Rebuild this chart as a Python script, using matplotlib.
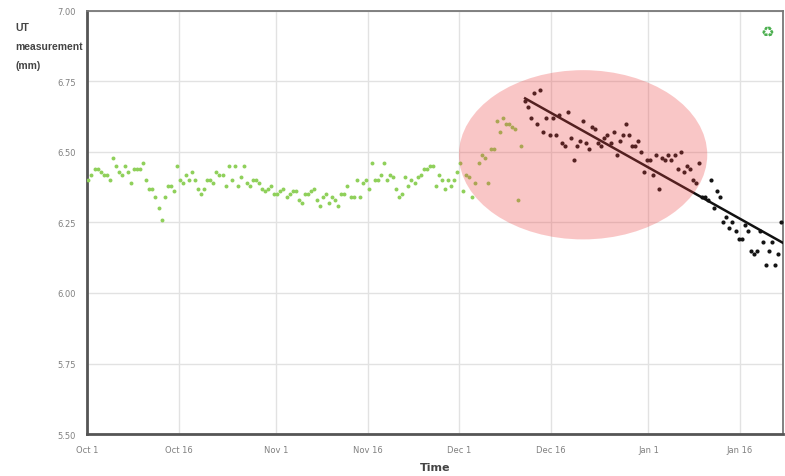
import numpy as np
import pandas as pd
import matplotlib
matplotlib.use("Agg")
import matplotlib.pyplot as plt
import matplotlib.dates as mdates
from matplotlib.patches import Ellipse

# UT wall-thickness readings, two per day
normal_start, normal_end = "2018-10-01 05:00", "2018-12-11 03:30"
normal_vals = [
    6.40, 6.42, 6.44, 6.44, 6.43, 6.42, 6.42, 6.40, 6.48, 6.45,
    6.43, 6.42, 6.45, 6.43, 6.39, 6.44, 6.44, 6.44, 6.46, 6.40,
    6.37, 6.37, 6.34, 6.30, 6.26, 6.34, 6.38, 6.38, 6.36, 6.45,
    6.40, 6.39, 6.42, 6.40, 6.43, 6.40, 6.37, 6.35, 6.37, 6.40,
    6.40, 6.39, 6.43, 6.42, 6.42, 6.38, 6.45, 6.40, 6.45, 6.38,
    6.41, 6.45, 6.39, 6.38, 6.40, 6.40, 6.39, 6.37, 6.36, 6.37,
    6.38, 6.35, 6.35,
    6.36, 6.37, 6.34, 6.35, 6.36, 6.36, 6.33, 6.32, 6.35, 6.35,
    6.36, 6.37, 6.33, 6.31, 6.34, 6.35, 6.32, 6.34, 6.33, 6.31,
    6.35, 6.35, 6.38, 6.34, 6.34, 6.40, 6.34, 6.39, 6.40, 6.37,
    6.46, 6.40, 6.40, 6.42, 6.46, 6.40, 6.42, 6.41, 6.37, 6.34,
    6.35, 6.41, 6.38, 6.40, 6.39, 6.41, 6.42, 6.44, 6.44, 6.45,
    6.45, 6.38, 6.42, 6.40, 6.37, 6.40, 6.38, 6.40, 6.43, 6.46,
    6.36,
    6.42, 6.41, 6.34, 6.39, 6.46, 6.49, 6.48, 6.39, 6.51, 6.51,
    6.61, 6.57, 6.62, 6.60, 6.60, 6.59, 6.58, 6.33, 6.52,
]

# readings after the corrosion onset
decay_start, decay_end = "2018-12-11 19:00", "2019-01-22 18:30"
decay_vals = [
    6.68, 6.66, 6.62, 6.71, 6.60, 6.72, 6.57, 6.62, 6.56, 6.62,
    6.56, 6.63, 6.53, 6.52, 6.64, 6.55, 6.47, 6.52, 6.54, 6.61,
    6.53, 6.51, 6.59, 6.58, 6.53, 6.52, 6.55, 6.56, 6.53, 6.57,
    6.49, 6.54, 6.56, 6.60, 6.56, 6.52, 6.52,
    6.54, 6.50, 6.43, 6.47, 6.47, 6.42, 6.49, 6.37, 6.48, 6.47,
    6.49, 6.47, 6.49, 6.44, 6.50, 6.43, 6.45, 6.44, 6.40, 6.39,
    6.46, 6.34, 6.34, 6.33, 6.40, 6.30, 6.36, 6.34, 6.25, 6.27,
    6.23, 6.25, 6.22, 6.19, 6.19, 6.24, 6.22, 6.15, 6.14, 6.15,
    6.22, 6.18, 6.10, 6.15, 6.18, 6.10, 6.14, 6.25,
]

tick_dates = ["2018-10-01", "2018-10-16", "2018-11-01", "2018-11-16",
              "2018-12-01", "2018-12-16", "2019-01-01", "2019-01-16"]
tick_labels = ["Oct 1", "Oct 16", "Nov 1", "Nov 16",
               "Dec 1", "Dec 16", "Jan 1", "Jan 16"]
y_ticks = [5.50, 5.75, 6.00, 6.25, 6.50, 6.75, 7.00]

t_norm = pd.date_range(normal_start, normal_end, periods=len(normal_vals))
t_decay = pd.date_range(decay_start, decay_end, periods=len(decay_vals))

fig = plt.figure(figsize=(7.85, 4.77), dpi=100)
ax = fig.add_axes([0.111, 0.088, 0.886, 0.887])
plt.rcParams['font.family'] = ['Liberation Sans', 'DejaVu Sans']

x_norm = mdates.date2num(t_norm)
x_decay = mdates.date2num(t_decay)

ax.scatter(x_norm, normal_vals, s=8, color="#8fd05a", linewidths=0, zorder=3)
ax.scatter(x_decay, decay_vals, s=9, color="#141414", linewidths=0, zorder=3)

# linear trend over the decaying section
k, b = np.polyfit(x_decay - x_decay[0], decay_vals, 1)
x_end = mdates.date2num(pd.Timestamp("2019-01-23"))
xl = np.array([x_decay[0], x_end])
ax.plot(xl, k * (xl - x_decay[0]) + b, color="#111111", lw=1.8, zorder=4)

# highlight of the anomaly region
cx = mdates.date2num(pd.Timestamp("2018-12-21 07:00"))
ell = Ellipse((cx, 6.49), width=40.7, height=0.60, facecolor="#ee4444",
              alpha=0.3, edgecolor="none", zorder=5)
ax.add_patch(ell)

ax.set_xlim(mdates.date2num(pd.Timestamp("2018-10-01")), x_end)
ax.set_ylim(5.5, 7.0)
ax.set_xticks(mdates.date2num(pd.to_datetime(tick_dates)))
ax.set_xticklabels(tick_labels)
ax.set_yticks(y_ticks)
ax.set_yticklabels([f"{v:.2f}" for v in y_ticks])
ax.tick_params(length=0, labelsize=6, colors="#808080", pad=8)
ax.grid(True, color="#e2e2e2", lw=1)
ax.set_axisbelow(True)

for side in ["left", "bottom"]:
    ax.spines[side].set_color("#555555")
    ax.spines[side].set_linewidth(2)
for side in ["top", "right"]:
    ax.spines[side].set_color("#777777")
    ax.spines[side].set_linewidth(1.3)

fig.text(0.020, 0.935, "UT", fontsize=7.5, weight="bold", color="#444444")
fig.text(0.020, 0.895, "measurement", fontsize=7.5, weight="bold", color="#444444")
fig.text(0.020, 0.856, "(mm)", fontsize=7.5, weight="bold", color="#444444")
ax.set_xlabel("Time", fontsize=8, weight="bold", color="#444444", labelpad=6)

fig.text(0.978, 0.932, "\u267b", fontsize=11, color="#4caf50",
         ha="center", va="center", family="DejaVu Sans")

fig.savefig("out.png", dpi=100)
